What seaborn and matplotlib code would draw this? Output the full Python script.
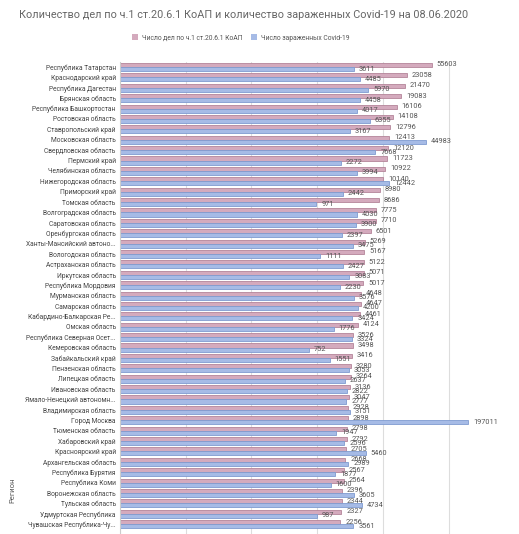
import matplotlib
matplotlib.use("Agg")
import matplotlib.pyplot as plt
import seaborn as sns
import pandas as pd

regions = [
    "Республика Татарстан", "Краснодарский край", "Республика Дагестан", "Брянская область",
    "Республика Башкортостан", "Ростовская область", "Ставропольский край", "Московская область",
    "Свердловская область", "Пермский край", "Челябинская область", "Нижегородская область",
    "Приморский край", "Томская область", "Волгоградская область", "Саратовская область",
    "Оренбургская область", "Ханты-Мансийский автоно...", "Вологодская область", "Астраханская область",
    "Иркутская область", "Республика Мордовия", "Мурманская область", "Самарская область",
    "Кабардино-Балкарская Ре...", "Омская область", "Республика Северная Осет...", "Кемеровская область",
    "Забайкальский край", "Пензенская область", "Липецкая область", "Ивановская область",
    "Ямало-Ненецкий автономн...", "Владимирская область", "Город Москва", "Тюменская область",
    "Хабаровский край", "Красноярский край", "Архангельская область", "Республика Бурятия",
    "Республика Коми", "Воронежская область", "Тульская область", "Удмуртская Республика",
    "Чувашская Республика-Чу...",
]
cases_koap = [
    55603, 23058, 21470, 19083, 16106, 14108, 12796, 12413, 12120, 11723, 10922, 10140,
    8980, 8686, 7775, 7710, 6501, 5269, 5167, 5122, 5071, 5017, 4648, 4647, 4461, 4124,
    3526, 3498, 3416, 3280, 3264, 3136, 3047, 2928, 2898, 2798, 2792, 2705, 2668, 2567,
    2564, 2396, 2344, 2327, 2256,
]
covid = [
    3611, 4485, 5970, 4458, 4017, 6355, 3167, 44983, 7668, 2272, 3994, 12442,
    2442, 971, 4030, 3900, 2397, 3475, 1111, 2427, 3083, 2230, 3576, 4200, 3424, 1776,
    3324, 752, 1551, 3053, 2637, 2822, 2777, 3151, 197011, 1947, 2596, 5460, 2989, 1877,
    1600, 3605, 4734, 987, 3561,
]
series_names = ["Число дел по ч.1 ст.20.6.1 КоАП", "Число зараженных Covid-19"]
colors = ["#d4aabd", "#a6bbe6"]
edge_colors = ["#b48499", "#7f9bd0"]

df = pd.DataFrame({
    "Регион": regions * 2,
    "value": cases_koap + covid,
    "series": [series_names[0]] * len(regions) + [series_names[1]] * len(regions),
})

sns.set_style("white")
plt.rcParams["font.family"] = ["Roboto", "DejaVu Sans"]

W, H = 519, 534
fig = plt.figure(figsize=(W / 100, H / 100), dpi=100)

n = len(regions)
row_px = 10.39
top_px = 61.8
ylim_bottom = n - 0.5 + 0.8
h_px = (ylim_bottom + 0.5) * row_px
left_px, right_px = 120, 498
ax = fig.add_axes([left_px / W, 1 - (top_px + h_px) / H, (right_px - left_px) / W, h_px / H])

sns.barplot(data=df, y="Регион", x="value", hue="series", orient="h",
            palette=colors, width=0.78, ax=ax, legend=False,
            linewidth=0.6, saturation=1)
ax.set_xscale("log")

for cont, ec in zip(ax.containers, edge_colors):
    for b in cont:
        b.set_edgecolor(ec)
    ax.bar_label(cont, labels=[f"{int(round(v.get_width()))}" for v in cont],
                 padding=3.5, fontsize=5.3, color="#555555")

ax.set_xlim(1, 10 ** 5.75)
ax.set_ylim(ylim_bottom, -0.5)
ax.grid(axis="x", which="major", color="#dddddd", linewidth=0.8)
ax.grid(axis="x", which="minor", visible=False)
ax.set_axisbelow(True)
ax.tick_params(axis="x", which="both", bottom=False, labelbottom=False)
ax.tick_params(axis="y", length=0, labelsize=4.8, labelcolor="#444444", pad=3)
for s in ["top", "right", "bottom"]:
    ax.spines[s].set_visible(False)
ax.spines["left"].set_color("#cccccc")
ax.spines["left"].set_linewidth(0.8)
ax.set_xlabel("")
ax.set_ylabel("")

fig.text(19 / W, 1 - 15 / H,
         "Количество дел по ч.1 ст.20.6.1 КоАП и количество зараженных Covid-19 на 08.06.2020",
         fontsize=7.8, color="#666666", ha="left", va="center")

from matplotlib.patches import Patch
handles = [Patch(facecolor=c, edgecolor="none") for c in colors]
fig.legend(handles, series_names, loc="center", bbox_to_anchor=(241 / W, 1 - 38 / H),
           ncol=2, frameon=False, fontsize=4.9, handlelength=0.9, handleheight=0.9,
           columnspacing=1.2, handletextpad=0.6, labelcolor="#555555")

fig.text(12 / W, 1 - 490 / H, "Регион", rotation=90, fontsize=5.5, color="#555555",
         ha="center", va="center")

fig.savefig("out.png", dpi=100)
